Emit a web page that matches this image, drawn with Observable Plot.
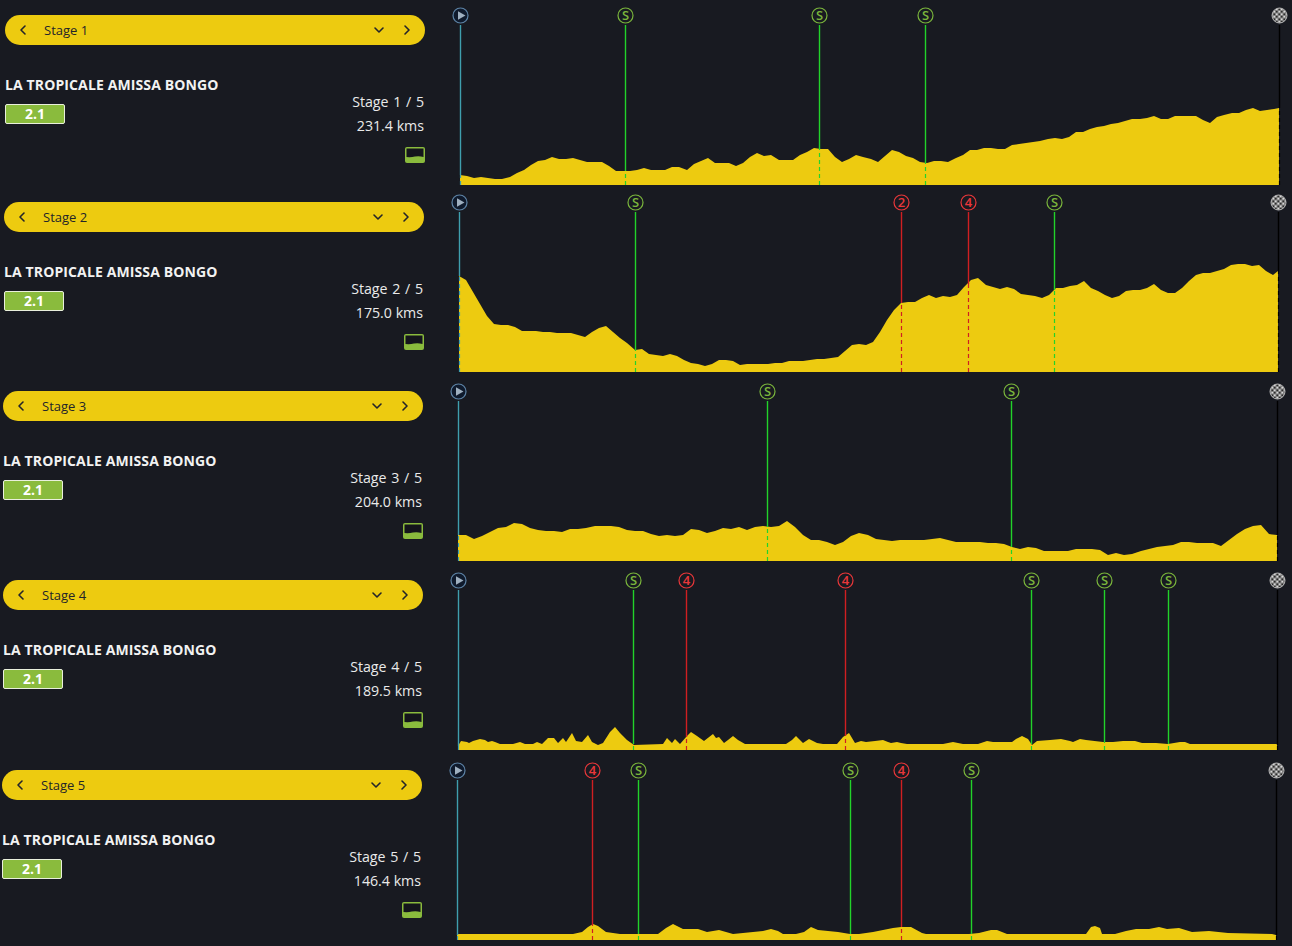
<!DOCTYPE html>
<html><head><meta charset="utf-8">
<script src="https://cdn.jsdelivr.net/npm/d3@7"></script>
<script src="https://cdn.jsdelivr.net/npm/@observablehq/plot@0.6"></script>
<style>
html,body{margin:0;padding:0;width:1292px;height:946px;overflow:hidden;background:#181a21;font-family:"Open Sans",sans-serif}
.stage{position:absolute;width:420px;height:170px}
.pill{position:absolute;left:0;top:0;width:420px;height:30px;border-radius:15px;background:#edcb10;color:#23242a;font-size:13px;line-height:30px}
.pill span{position:absolute;left:39px}
.pill svg{position:absolute;top:9px}
.title{position:absolute;left:0;top:60px;color:#f2f2f2;font-weight:700;font-size:14px;line-height:20px;white-space:nowrap;letter-spacing:.12px}
.badge{position:absolute;left:0;top:89px;width:58px;height:18px;line-height:18px;border:1px solid #e9efdc;border-radius:2px;background:#8abb3d;color:#fff;font-weight:700;font-size:14px;text-align:center}
.info{position:absolute;right:1px;width:200px;text-align:right;color:#eaeaea;font-size:14.2px;line-height:20px}
.count{word-spacing:1px}
.icon{position:absolute;right:0;top:132px}
</style></head><body>
<script>
const stageNames = ["Stage 1","Stage 2","Stage 3","Stage 4","Stage 5"];
const raceName = "LA TROPICALE AMISSA BONGO";
const raceClass = "2.1";
const stageCounts = ["Stage 1 / 5","Stage 2 / 5","Stage 3 / 5","Stage 4 / 5","Stage 5 / 5"];
const stageDistances = [231.4,175.0,204.0,189.5,146.4];
const stageLefts = [5,4,3,3,2];
const stageTops = [15,202,391,580,770];

// Elevation (m) read every 2 km, last sample at the finish
const stage1Elev = [30,26,21,23,22,19,17,24,35,44,61,73,75,83,79,79,80,75,68,69,68,58,42,42,43,45,50,45,45,45,53,53,45,63,71,80,65,67,65,58,67,85,95,88,90,75,74,74,90,100,110,108,108,85,70,77,90,85,77,70,88,105,98,88,80,70,65,71,71,68,81,90,104,106,110,110,108,107,119,123,125,128,133,137,140,139,145,159,160,167,174,177,183,185,191,198,199,200,206,198,199,208,206,208,206,195,187,203,209,217,215,225,230,222,225,227,230];
// every 1.5 km
const stage2Elev = [287,275,240,203,167,143,142,140,135,123,124,122,120,120,118,117,117,112,105,121,132,137,120,103,87,65,69,55,51,48,53,48,37,28,24,18,23,35,37,33,22,25,23,23,25,27,28,32,32,34,35,38,40,43,44,62,80,83,82,90,120,155,185,207,209,210,223,230,223,229,225,230,255,275,281,260,255,249,256,248,235,230,228,222,230,253,253,257,262,272,253,243,230,222,227,242,245,245,253,265,247,238,237,253,273,290,296,297,303,310,320,323,323,318,320,303,292,302];
// every 2 km
const stage3Elev = [78,77,67,75,87,98,102,115,112,99,94,90,91,88,95,97,98,106,104,104,102,94,90,90,82,76,77,76,79,97,92,84,90,100,97,102,94,102,104,102,106,120,102,79,62,62,56,49,57,75,85,77,65,64,60,64,64,64,63,67,70,64,58,56,58,57,55,53,51,42,37,41,39,31,31,29,30,36,36,37,32,19,25,19,21,29,36,42,45,49,57,57,54,54,54,45,64,82,95,104,109,82,79];
// Irregular vertices for the spiky, low stages
const stage4Km = [0,0.8,2,2.6,3.5,5.1,6.2,7,7.8,8.6,9.7,12.8,14.3,15.5,17.4,18.3,19.4,20.9,22.1,23.2,24.4,25.1,26.3,27.3,28.6,30.1,30.9,32.5,33.6,35.2,36.3,37.5,39,40.8,47.5,48.4,49.4,50.3,51.3,52.9,53.8,55.2,56.9,59.1,59.8,60.4,61.5,62.5,63.7,64.8,66.4,76,77.2,78.3,79.9,81.3,83,84.5,87.6,89.1,90.4,91.8,93.2,94.5,96.5,98.4,99.6,100.3,101.5,102.6,103.8,112.3,114.6,116.9,120.4,122.3,123.8,126.2,128.1,129.2,130.6,131.9,132.7,133.9,137,139.6,141.6,142.3,143.9,145.4,149.3,151.6,153.9,156.6,158.2,161.6,164.3,167,168.2,169.3,189.4,189.5];
const stage4Elev = [12,28,23,20,27,33,30,23,28,23,17,18,23,17,18,25,19,37,35,22,35,25,50,28,23,45,25,15,20,55,68,50,30,15,17,35,20,32,18,43,53,43,28,47,37,40,20,30,43,30,17,17,30,41,20,33,20,17,18,40,50,20,28,25,28,30,25,20,23,20,18,18,23,18,18,27,25,23,25,33,42,33,15,27,29,32,27,25,32,29,25,23,27,27,22,20,17,23,23,18,17,14];
const stage5Km = [0,0.2,20.8,22.3,23.4,24.3,25.2,26.7,27.9,29.1,35.9,37.4,38.7,40.4,43.1,44.6,46.9,49.3,51.1,52.9,54.7,56.2,57.4,58.3,60.6,62.1,63.3,64.5,68.1,70.2,71.9,74.3,77.9,79.3,81.1,83.2,83.8,91.5,93.3,95.4,96.6,98.4,112.4,113.3,114.1,114.9,115.3,117.7,119.5,121.3,123.7,125.5,127,129,131.4,134.4,137.9,145.7,146.4];
const stage5Elev = [14,18,18,25,40,48,42,25,20,18,18,35,48,33,33,25,30,18,20,25,27,33,28,18,19,25,40,30,25,18,17,25,35,40,40,20,18,18,20,30,30,18,18,38,43,35,18,19,27,33,33,40,32,36,25,27,20,18,14];

const stage1Sprints = [46.6,101.4,131.4];
const stage2Sprints = [37.6,127.1];
const stage3Sprints = [76.9,137.7];
const stage4Sprints = [40.6,132.5,149.5,164.2];
const stage5Sprints = [32.3,70.2,91.8];
const stage1Climbs = [], stage1Cats = [];
const stage2Climbs = [94.4,108.7], stage2Cats = ["2","4"];
const stage3Climbs = [], stage3Cats = [];
const stage4Climbs = [52.7,89.5], stage4Cats = ["4","4"];
const stage5Climbs = [24.1,79.3], stage5Cats = ["4","4"];

const YELLOW="#edcb10", GREEN="#22d32a", SGREEN="#7ab53c", RED="#d01f22", CRED="#e8373a", TEAL="#3f9fae", DARK="#181a21";
const TOP=510, LINE_TOP=480;

function evenKm(elev,step,total){return elev.map((_,i)=>Math.min(i*step,total));}
const profiles=[
  {km:evenKm(stage1Elev,2,231.4),elev:stage1Elev,spr:stage1Sprints,clb:stage1Climbs,cat:stage1Cats},
  {km:evenKm(stage2Elev,1.5,175),elev:stage2Elev,spr:stage2Sprints,clb:stage2Climbs,cat:stage2Cats},
  {km:evenKm(stage3Elev,2,204),elev:stage3Elev,spr:stage3Sprints,clb:stage3Climbs,cat:stage3Cats},
  {km:stage4Km,elev:stage4Elev,spr:stage4Sprints,clb:stage4Climbs,cat:stage4Cats},
  {km:stage5Km,elev:stage5Elev,spr:stage5Sprints,clb:stage5Climbs,cat:stage5Cats}
];
function chevron(pts,x){return `<svg width="12" height="12" style="left:${x}px"><polyline points="${pts}" fill="none" stroke="#23242a" stroke-width="1.6" stroke-linecap="round" stroke-linejoin="round"/></svg>`;}
const iconSvg=`<svg width="20" height="16" style="display:block"><rect width="20" height="16" rx="2" fill="#8abb3d"/><path d="M1.5 1.5H18.5V10Q14 8.8 10 9.6T1.5 10Z" fill="#14151c"/></svg>`;

profiles.forEach((p,s)=>{
  const total=stageDistances[s];
  const rows=p.km.map((k,i)=>({km:k,elev:p.elev[i]}));
  const at=k=>{const i=Math.max(1,d3.bisectLeft(p.km,k));const a=rows[i-1],b=rows[i]||a;const t=b.km>a.km?(k-a.km)/(b.km-a.km):0;return a.elev+(b.elev-a.elev)*t;};
  const lines=[
    ...p.spr.map(k=>({km:k,c:GREEN})),
    ...p.clb.map(k=>({km:k,c:RED})),
    {km:0,c:TEAL},{km:total,c:"#000"}
  ].map(d=>({...d,surf:at(d.km)}));
  const badges=[
    ...p.spr.map(k=>({km:k,t:"S",c:SGREEN})),
    ...p.clb.map((k,i)=>({km:k,t:p.cat[i],c:CRED}))
  ];
  const plot=Plot.plot({
    width:842,height:186,marginTop:10,marginBottom:6,marginLeft:10,marginRight:13,
    style:{background:"transparent",overflow:"visible",maxWidth:"none"},
    x:{axis:null,domain:[0,total],range:[10,829],round:true},
    y:{axis:null,domain:[0,510],range:[180,10],round:true},
    marks:[
      Plot.areaY(rows,{x:"km",y:"elev",fill:YELLOW,curve:"linear"}),
      Plot.ruleX(lines,{x:"km",y1:"surf",y2:LINE_TOP,stroke:"c",strokeWidth:1.4}),
      Plot.ruleX(lines,{x:"km",y1:0,y2:"surf",stroke:"c",strokeWidth:1.2,strokeDasharray:"4 3"}),
      Plot.dot(badges,{x:"km",y:TOP,r:7.5,fill:DARK,stroke:"c",strokeWidth:1.2}),
      Plot.text(badges,{x:"km",y:TOP,text:"t",fill:"c",fontSize:13,fontWeight:600,fontFamily:"Open Sans"}),
      Plot.dot([0],{x:d=>d,y:TOP,r:7.5,fill:"#0f1a2c",stroke:"#5d83a6",strokeWidth:1.2}),
      Plot.dot([0],{x:d=>d,y:TOP,r:3.2,symbol:"triangle",rotate:90,fill:"#9fb0c0"}),
      Plot.dot([total],{x:d=>d,y:TOP,r:7.5,fill:"url(#chk)",stroke:"#b5b5b5",strokeWidth:1})
    ]
  });
  plot.style.color="inherit";
  d3.select(plot).append("defs").html(`<pattern id="chk" width="5" height="5" patternUnits="userSpaceOnUse"><rect width="5" height="5" fill="#d8d8d8"/><rect width="2.5" height="2.5" fill="#2c2c2c"/><rect x="2.5" y="2.5" width="2.5" height="2.5" fill="#2c2c2c"/></pattern>`);
  const div=document.createElement("div");
  div.className="stage";
  div.style.left=stageLefts[s]+"px"; div.style.top=stageTops[s]+"px";
  div.innerHTML=`<div class="pill">${chevron("8,2 4,6 8,10",12)}<span>${stageNames[s]}</span>${chevron("2,4 6,8 10,4",368)}${chevron("4,2 8,6 4,10",396)}</div>
  <div class="title">${raceName}</div><div class="badge">${raceClass}</div>
  <div class="info count" style="top:77px">${stageCounts[s]}</div>
  <div class="info" style="top:101px">${total.toFixed(1)} kms</div>
  <div class="icon">${iconSvg}</div>`;
  plot.style.position="absolute"; plot.style.left="445px"; plot.style.top="-10px";
  div.appendChild(plot);
  document.body.appendChild(div);
});
</script>
</body></html>
